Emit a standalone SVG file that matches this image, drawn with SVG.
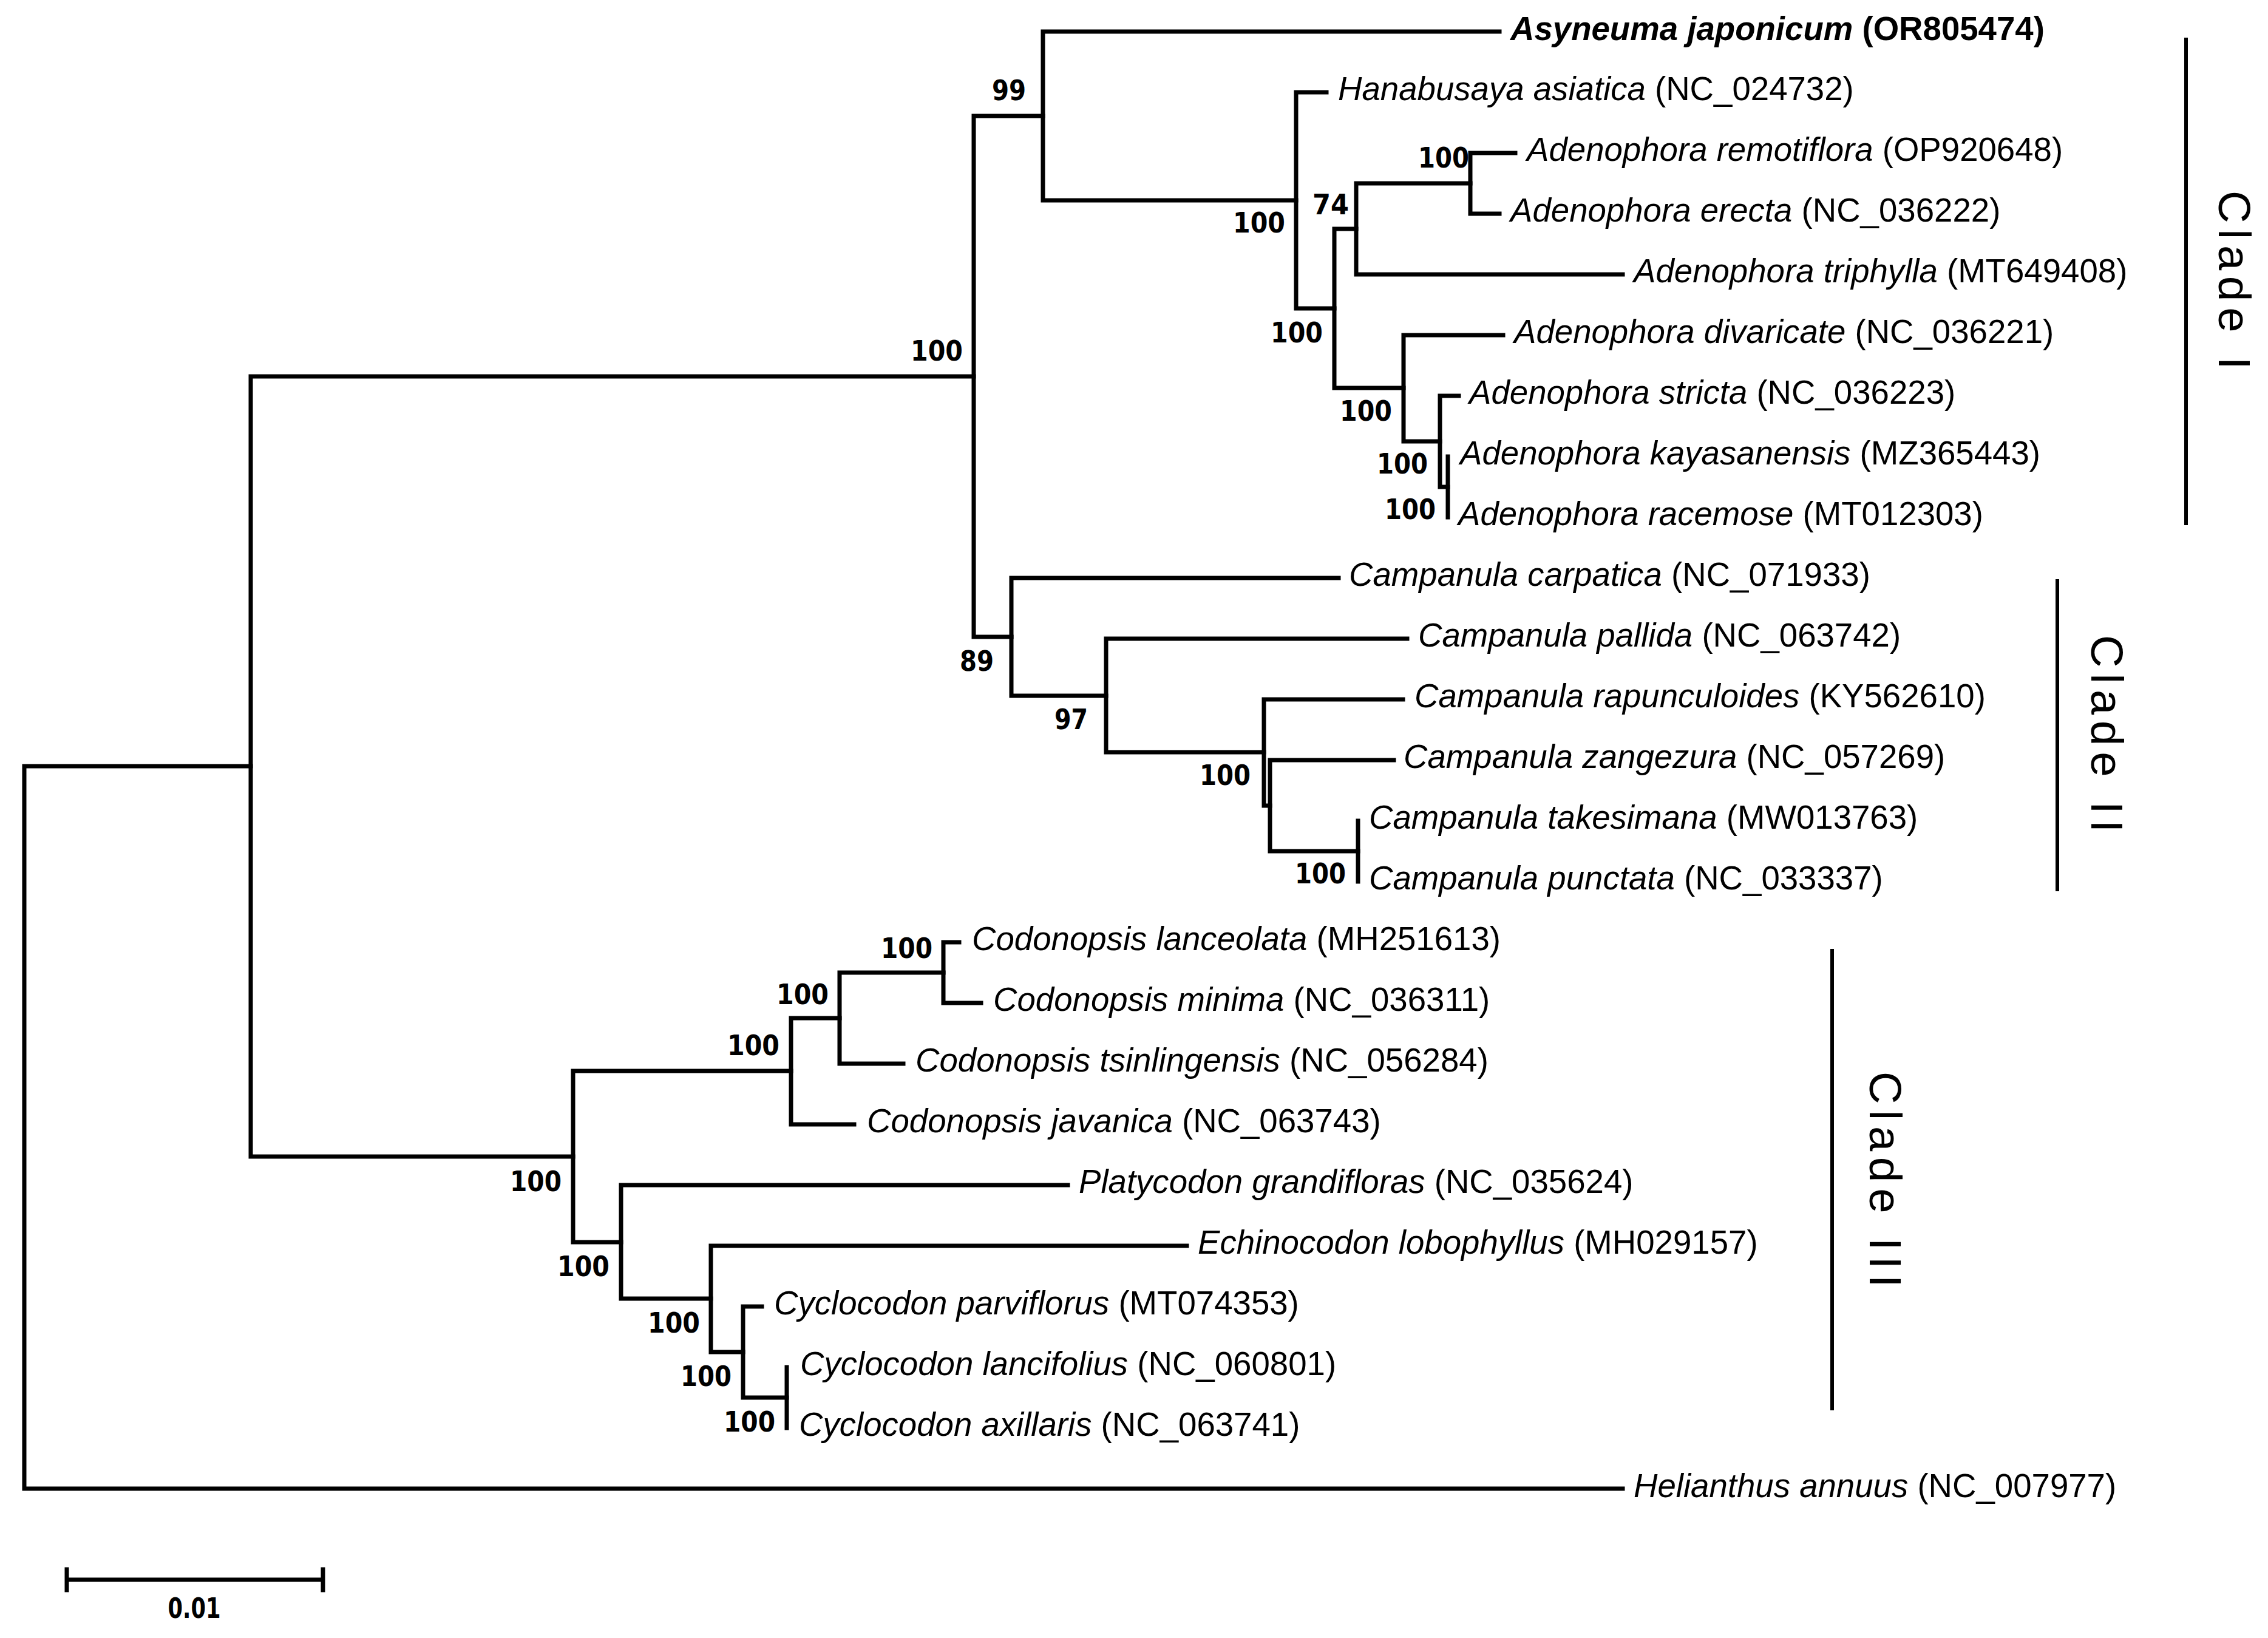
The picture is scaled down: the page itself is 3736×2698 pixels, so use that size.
<svg xmlns="http://www.w3.org/2000/svg" width="3736" height="2698" viewBox="0 0 3736 2698">
<style>
.br{fill:none;stroke:#000;stroke-width:7;stroke-linejoin:miter;stroke-linecap:square}
.bar{fill:none;stroke:#000;stroke-width:6}
.tx{font-family:"Liberation Sans",Arial,sans-serif;font-size:54.6px;fill:#000}
.sp{font-style:italic}
.bs{font-family:"DejaVu Sans Condensed","DejaVu Sans",sans-serif;font-weight:bold;font-size:46px;fill:#000;text-anchor:end}
.cl{font-family:"Liberation Sans",Arial,sans-serif;font-size:74px;letter-spacing:10px;fill:#000}
</style>
<rect width="3736" height="2698" fill="#fff"/>
<g id="connectors">
<path class="br" d="M413,1262 H40 V2452 H2673"/>
<path class="br" d="M1604,620 H413 V1905 H944"/>
<path class="br" d="M1718,191 H1604 V1049 H1666"/>
<path class="br" d="M2470,52 H1718 V330 H2135"/>
<path class="br" d="M2185,152 H2135 V508 H2198"/>
<path class="br" d="M2234,377 H2198 V639 H2312"/>
<path class="br" d="M2422,302 H2234 V452 H2673"/>
<path class="br" d="M2496,252 H2422 V352 H2470"/>
<path class="br" d="M2476,552 H2312 V727 H2372"/>
<path class="br" d="M2403,652 H2372 V802 H2385"/>
<path class="br" d="M2385,752 V852"/>
<path class="br" d="M2205,952 H1666 V1146 H1822"/>
<path class="br" d="M2318,1052 H1822 V1239 H2082"/>
<path class="br" d="M2311,1152 H2082 V1327 H2092"/>
<path class="br" d="M2296,1252 H2092 V1402 H2237"/>
<path class="br" d="M2237,1352 V1452"/>
<path class="br" d="M1303,1764 H944 V2046 H1023"/>
<path class="br" d="M1383,1677 H1303 V1852 H1407"/>
<path class="br" d="M1554,1602 H1383 V1752 H1488"/>
<path class="br" d="M1580,1552 H1554 V1652 H1616"/>
<path class="br" d="M1759,1952 H1023 V2139 H1171"/>
<path class="br" d="M1955,2052 H1171 V2227 H1224"/>
<path class="br" d="M1255,2152 H1224 V2302 H1296"/>
<path class="br" d="M1296,2252 V2352"/>
</g>
<g id="leaves">
<g id="leaf-asyneuma"><text class="tx" x="2488" y="66" font-weight="bold"><tspan class="sp">Asyneuma japonicum</tspan> (OR805474)</text></g>
<g id="leaf-hanabusaya"><text class="tx" x="2204" y="165"><tspan class="sp">Hanabusaya asiatica</tspan> (NC_024732)</text></g>
<g id="leaf-remotiflora"><text class="tx" x="2515" y="265"><tspan class="sp">Adenophora remotiflora</tspan> (OP920648)</text></g>
<g id="leaf-erecta"><text class="tx" x="2488" y="365"><tspan class="sp">Adenophora erecta</tspan> (NC_036222)</text></g>
<g id="leaf-triphylla"><text class="tx" x="2691" y="465"><tspan class="sp">Adenophora triphylla</tspan> (MT649408)</text></g>
<g id="leaf-divaricate"><text class="tx" x="2494" y="565"><tspan class="sp">Adenophora divaricate</tspan> (NC_036221)</text></g>
<g id="leaf-stricta"><text class="tx" x="2420" y="665"><tspan class="sp">Adenophora stricta</tspan> (NC_036223)</text></g>
<g id="leaf-kayasanensis"><text class="tx" x="2405" y="765"><tspan class="sp">Adenophora kayasanensis</tspan> (MZ365443)</text></g>
<g id="leaf-racemose"><text class="tx" x="2402" y="865"><tspan class="sp">Adenophora racemose</tspan> (MT012303)</text></g>
<g id="leaf-carpatica"><text class="tx" x="2222" y="965"><tspan class="sp">Campanula carpatica</tspan> (NC_071933)</text></g>
<g id="leaf-pallida"><text class="tx" x="2336" y="1065"><tspan class="sp">Campanula pallida</tspan> (NC_063742)</text></g>
<g id="leaf-rapunculoides"><text class="tx" x="2330" y="1165"><tspan class="sp">Campanula rapunculoides</tspan> (KY562610)</text></g>
<g id="leaf-zangezura"><text class="tx" x="2312" y="1265"><tspan class="sp">Campanula zangezura</tspan> (NC_057269)</text></g>
<g id="leaf-takesimana"><text class="tx" x="2255" y="1365"><tspan class="sp">Campanula takesimana</tspan> (MW013763)</text></g>
<g id="leaf-punctata"><text class="tx" x="2255" y="1465"><tspan class="sp">Campanula punctata</tspan> (NC_033337)</text></g>
<g id="leaf-lanceolata"><text class="tx" x="1601" y="1565"><tspan class="sp">Codonopsis lanceolata</tspan> (MH251613)</text></g>
<g id="leaf-minima"><text class="tx" x="1636" y="1665"><tspan class="sp">Codonopsis minima</tspan> (NC_036311)</text></g>
<g id="leaf-tsinlingensis"><text class="tx" x="1508" y="1765"><tspan class="sp">Codonopsis tsinlingensis</tspan> (NC_056284)</text></g>
<g id="leaf-javanica"><text class="tx" x="1428" y="1865"><tspan class="sp">Codonopsis javanica</tspan> (NC_063743)</text></g>
<g id="leaf-platycodon"><text class="tx" x="1777" y="1965"><tspan class="sp">Platycodon grandifloras</tspan> (NC_035624)</text></g>
<g id="leaf-echinocodon"><text class="tx" x="1973" y="2065"><tspan class="sp">Echinocodon lobophyllus</tspan> (MH029157)</text></g>
<g id="leaf-parviflorus"><text class="tx" x="1275" y="2165"><tspan class="sp">Cyclocodon parviflorus</tspan> (MT074353)</text></g>
<g id="leaf-lancifolius"><text class="tx" x="1318" y="2265"><tspan class="sp">Cyclocodon lancifolius</tspan> (NC_060801)</text></g>
<g id="leaf-axillaris"><text class="tx" x="1316" y="2365"><tspan class="sp">Cyclocodon axillaris</tspan> (NC_063741)</text></g>
<g id="leaf-helianthus"><text class="tx" x="2691" y="2466"><tspan class="sp">Helianthus annuus</tspan> (NC_007977)</text></g>
</g>
<g id="support">
<g id="n-C"><text class="bs" x="1690" y="165" textLength="56" lengthAdjust="spacingAndGlyphs">99</text></g>
<g id="n-B"><text class="bs" x="1586" y="594" textLength="86" lengthAdjust="spacingAndGlyphs">100</text></g>
<g id="n-D"><text class="bs" x="1637" y="1105" textLength="56" lengthAdjust="spacingAndGlyphs">89</text></g>
<g id="n-E"><text class="bs" x="1792" y="1201" textLength="55" lengthAdjust="spacingAndGlyphs">97</text></g>
<g id="n-F"><text class="bs" x="2117" y="383" textLength="86" lengthAdjust="spacingAndGlyphs">100</text></g>
<g id="n-H"><text class="bs" x="2222" y="353" textLength="60" lengthAdjust="spacingAndGlyphs">74</text></g>
<g id="n-I"><text class="bs" x="2420" y="276" textLength="84" lengthAdjust="spacingAndGlyphs">100</text></g>
<g id="n-G"><text class="bs" x="2179" y="564" textLength="86" lengthAdjust="spacingAndGlyphs">100</text></g>
<g id="n-J"><text class="bs" x="2293" y="693" textLength="86" lengthAdjust="spacingAndGlyphs">100</text></g>
<g id="n-K"><text class="bs" x="2352" y="780" textLength="84" lengthAdjust="spacingAndGlyphs">100</text></g>
<g id="n-L"><text class="bs" x="2365" y="855" textLength="84" lengthAdjust="spacingAndGlyphs">100</text></g>
<g id="n-M"><text class="bs" x="2060" y="1293" textLength="84" lengthAdjust="spacingAndGlyphs">100</text></g>
<g id="n-O"><text class="bs" x="2217" y="1455" textLength="84" lengthAdjust="spacingAndGlyphs">100</text></g>
<g id="n-S"><text class="bs" x="1536" y="1578" textLength="85" lengthAdjust="spacingAndGlyphs">100</text></g>
<g id="n-R"><text class="bs" x="1365" y="1654" textLength="86" lengthAdjust="spacingAndGlyphs">100</text></g>
<g id="n-Q"><text class="bs" x="1284" y="1738" textLength="86" lengthAdjust="spacingAndGlyphs">100</text></g>
<g id="n-P"><text class="bs" x="925" y="1962" textLength="85" lengthAdjust="spacingAndGlyphs">100</text></g>
<g id="n-T"><text class="bs" x="1004" y="2102" textLength="86" lengthAdjust="spacingAndGlyphs">100</text></g>
<g id="n-U"><text class="bs" x="1153" y="2195" textLength="86" lengthAdjust="spacingAndGlyphs">100</text></g>
<g id="n-V"><text class="bs" x="1205" y="2283" textLength="84" lengthAdjust="spacingAndGlyphs">100</text></g>
<g id="n-W"><text class="bs" x="1277" y="2358" textLength="85" lengthAdjust="spacingAndGlyphs">100</text></g>
</g>
<g id="clades">
<g id="clade-I"><line class="bar" x1="3601" y1="62" x2="3601" y2="865"/><text class="cl" transform="translate(3655,314) rotate(90)">Clade I</text></g>
<g id="clade-II"><line class="bar" x1="3389" y1="954" x2="3389" y2="1468"/><text class="cl" transform="translate(3445,1046) rotate(90)">Clade II</text></g>
<g id="clade-III"><line class="bar" x1="3018" y1="1563" x2="3018" y2="2323"/><text class="cl" transform="translate(3080,1765) rotate(90)">Clade III</text></g>
</g>
<g id="scale-bar">
<path class="br" d="M110,2602 H532 M110,2585 V2619 M532,2585 V2619" stroke-linecap="butt"/>
<text class="bs" x="320" y="2665" style="text-anchor:middle" textLength="87" lengthAdjust="spacingAndGlyphs">0.01</text>
</g>
</svg>
